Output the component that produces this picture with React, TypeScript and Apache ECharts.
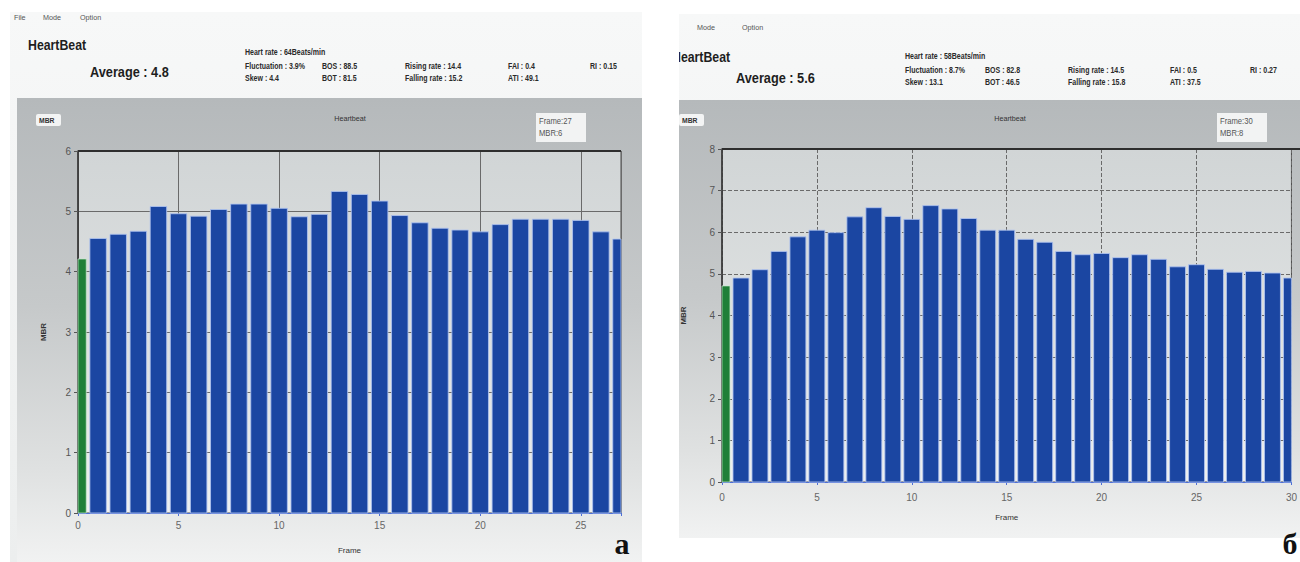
import React, { useEffect, useRef } from "react";
import * as echarts from "echarts";

// ---------- data ----------
const mbrA = [4.21, 4.55, 4.62, 4.67, 5.08, 4.96, 4.92, 5.03, 5.12, 5.12, 5.05, 4.91, 4.95, 5.33, 5.28, 5.17, 4.93, 4.81, 4.72, 4.69, 4.66, 4.78, 4.87, 4.87, 4.87, 4.85, 4.66, 4.54];
const mbrB = [4.71, 4.9, 5.1, 5.54, 5.89, 6.05, 5.99, 6.37, 6.59, 6.38, 6.31, 6.64, 6.56, 6.33, 6.05, 6.05, 5.83, 5.76, 5.54, 5.46, 5.49, 5.39, 5.46, 5.35, 5.17, 5.22, 5.11, 5.04, 5.06, 5.02, 4.9];

const menuA = ["File", "Mode", "Option"];
const menuB = ["Mode", "Option"];
const averageA = "Average : 4.8";
const averageB = "Average : 5.6";
const heartRateA = "Heart rate : 64Beats/min";
const heartRateB = "Heart rate : 58Beats/min";
const statsA1 = ["Fluctuation : 3.9%", "BOS : 88.5", "Rising rate : 14.4", "FAI : 0.4", "RI : 0.15"];
const statsA2 = ["Skew : 4.4", "BOT : 81.5", "Falling rate : 15.2", "ATI : 49.1"];
const statsB1 = ["Fluctuation : 8.7%", "BOS : 82.8", "Rising rate : 14.5", "FAI : 0.5", "RI : 0.27"];
const statsB2 = ["Skew : 13.1", "BOT : 46.5", "Falling rate : 15.8", "ATI : 37.5"];
const frameBoxA = ["Frame:27", "MBR:6"];
const frameBoxB = ["Frame:30", "MBR:8"];
const maxFrameA = 27;
const maxFrameB = 30;
const maxMbrA = 6;
const maxMbrB = 8;

// ---------- style ----------
const BLUE = "#1b46a2";
const GREEN = "#1f7f38";
const SANS = "'Liberation Sans', Arial, sans-serif";

function txt(x: number, y: number, text: string, size: number, opts: any = {}) {
  return {
    type: "text",
    x,
    y,
    scaleX: opts.scaleX ?? 0.82,
    z: opts.z ?? 10,
    style: {
      text,
      x: 0,
      y: 0,
      fontSize: size,
      fontWeight: opts.bold ? "bold" : "normal",
      fontFamily: opts.family ?? SANS,
      fill: opts.color ?? "#2a2a2a",
      align: opts.align ?? "left",
      verticalAlign: "middle",
    },
  };
}

function gradient(stops: [number, string][]) {
  return new echarts.graphic.LinearGradient(
    0, 0, 0, 1,
    stops.map(([offset, color]) => ({ offset, color }))
  );
}

function panelGraphics(p: any) {
  const els: any[] = [];
  els.push({ type: "rect", z: 1, shape: { x: p.winX, y: p.winY, width: p.winW, height: p.winH }, style: { fill: gradient([[0, "#f7f8f8"], [1, "#eceeee"]]) } });
  els.push({ type: "rect", z: 2, shape: { x: p.chartX, y: p.chartY, width: p.winX + p.winW - p.chartX, height: p.winY + p.winH - p.chartY }, style: { fill: gradient([[0, "#b5b9bb"], [0.45, "#c6c9ca"], [0.8, "#dfe1e1"], [1, "#f1f2f2"]]) } });
  p.menu.forEach((m: string, i: number) => els.push(txt(p.menuX[i], p.menuY, m, 8, { color: "#555", scaleX: 0.9 })));
  els.push(txt(p.hbX, p.hbY, "HeartBeat", 14, { bold: true, color: "#1e1e1e", scaleX: 0.88 }));
  els.push(txt(p.avgX, p.avgY, p.avg, 15, { bold: true, color: "#1e1e1e", scaleX: 0.85 }));
  els.push(txt(p.cols[0], p.hrY, p.hr, 9, { bold: true, scaleX: 0.78 }));
  p.row1.forEach((s: string, i: number) => els.push(txt(p.cols[i], p.r1Y, s, 9, { bold: true, scaleX: 0.78 })));
  p.row2.forEach((s: string, i: number) => els.push(txt(p.cols[i], p.r2Y, s, 9, { bold: true, scaleX: 0.78 })));
  // MBR badge
  els.push({ type: "rect", z: 5, shape: { x: p.mbrBoxX, y: 114, width: 25, height: 12, r: 2 }, style: { fill: "#f3f4f4" } });
  els.push(txt(p.mbrBoxX + 3, 120, "MBR", 8, { bold: true, color: "#333", scaleX: 0.85 }));
  // chart title
  els.push(txt(p.titleX, 118, "Heartbeat", 8, { color: "#333", align: "center", scaleX: 0.9 }));
  // frame box
  els.push({ type: "rect", z: 5, shape: { x: p.fbX, y: 113, width: 50, height: 29 }, style: { fill: "#f2f3f3" } });
  els.push(txt(p.fbX + 3, 121, p.frameBox[0], 9, { color: "#555", scaleX: 0.85 }));
  els.push(txt(p.fbX + 3, 133, p.frameBox[1], 9, { color: "#555", scaleX: 0.85 }));
  return els;
}

function xAxisFor(gridIndex: number, max: number, dashed: boolean, margin: number, nameGap: number) {
  return {
    type: "value",
    gridIndex,
    z: 50,
    min: 0,
    max,
    interval: 5,
    axisLine: { show: true, onZero: false, lineStyle: { color: "#4d6fd6", width: 1 } },
    axisTick: { show: true, length: 3, lineStyle: { color: "#4d6fd6" } },
    axisLabel: {
      margin,
      color: "#666",
      fontSize: 10,
      fontFamily: SANS,
      showMaxLabel: true,
      formatter: (v: number) => (v % 5 === 0 ? String(v) : ""),
    },
    splitLine: { show: true, lineStyle: { color: "#6a6a6a", width: 1, type: dashed ? "dashed" : "solid" } },
    name: "Frame",
    nameLocation: "middle",
    nameGap,
    nameTextStyle: { fontSize: 8, color: "#333", fontFamily: SANS },
  };
}

function yAxisFor(gridIndex: number, max: number, dashed: boolean, nameGap: number) {
  return {
    type: "value",
    gridIndex,
    z: 50,
    min: 0,
    max,
    interval: 1,
    axisLine: { show: true, lineStyle: { color: "#333", width: 1.5 } },
    axisTick: { show: true, length: 4, lineStyle: { color: "#555" } },
    axisLabel: { margin: 7, color: "#555", fontSize: 10, fontFamily: SANS },
    splitLine: { show: true, lineStyle: { color: "#6a6a6a", width: 1, type: dashed ? "dashed" : "solid" } },
    name: "MBR",
    nameLocation: "middle",
    nameGap,
    nameRotate: 90,
    nameTextStyle: { fontSize: 8, color: "#333", fontWeight: "bold", fontFamily: SANS },
  };
}

function barSeries(values: number[], axisIndex: number, widthRatio: number) {
  return {
    type: "custom",
    xAxisIndex: axisIndex,
    yAxisIndex: axisIndex,
    z: 60,
    data: values.map((v, i) => [i, v]),
    encode: { x: 0, y: 1 },
    renderItem: (params: any, api: any) => {
      const i = api.value(0);
      const v = api.value(1);
      const base = api.coord([i, 0]);
      const top = api.coord([i, v]);
      const w = api.size([1, 0])[0] * widthRatio;
      const cs = params.coordSys;
      const shape = echarts.graphic.clipRectByRect(
        { x: base[0] - w / 2, y: top[1], width: w, height: base[1] - top[1] },
        { x: cs.x, y: cs.y - 2, width: cs.width, height: cs.height + 2 }
      );
      if (!shape) return null;
      return {
        type: "rect",
        shape,
        style: {
          fill: i === 0 ? GREEN : BLUE,
          stroke: i === 0 ? "rgba(200,235,205,0.7)" : "rgba(175,195,240,0.85)",
          lineWidth: 1,
        },
      };
    },
  };
}

export default function App() {
  const ref = useRef<HTMLDivElement>(null);
  useEffect(() => {
    if (!ref.current) return;
    const chart = echarts.init(ref.current, undefined, { renderer: "svg" });

    const gA = { left: 78, top: 151, width: 543, height: 362 };
    const gB = { left: 722, top: 149, width: 578, height: 333 };

    const graphics: any[] = [
      ...panelGraphics({
        winX: 10, winY: 12, winW: 632, winH: 550, chartX: 17, chartY: 98,
        menu: menuA, menuX: [14, 43, 80], menuY: 17,
        hbX: 28, hbY: 45, avg: averageA, avgX: 90, avgY: 72,
        hr: heartRateA, row1: statsA1, row2: statsA2, cols: [245, 322, 405, 508, 590],
        hrY: 52, r1Y: 66, r2Y: 78,
        mbrBoxX: 36, titleX: 350, frameBox: frameBoxA, fbX: 536,
      }),
      ...panelGraphics({
        winX: 679, winY: 14, winW: 621, winH: 524, chartX: 679, chartY: 100,
        menu: menuB, menuX: [697, 742], menuY: 27,
        hbX: 672, hbY: 57, avg: averageB, avgX: 736, avgY: 78,
        hr: heartRateB, row1: statsB1, row2: statsB2, cols: [905, 985, 1068, 1170, 1250],
        hrY: 56, r1Y: 70, r2Y: 82,
        mbrBoxX: 679, titleX: 1010, frameBox: frameBoxB, fbX: 1217,
      }),
      // gap between panels
      { type: "rect", z: 20, shape: { x: 642, y: 0, width: 37, height: 562 }, style: { fill: "#ffffff" } },
      // thick top borders of the plots
      { type: "line", z: 70, shape: { x1: gA.left, y1: gA.top, x2: gA.left + gA.width, y2: gA.top }, style: { stroke: "#2e2e2e", lineWidth: 2 } },
      { type: "line", z: 70, shape: { x1: gB.left, y1: gB.top, x2: gB.left + gB.width, y2: gB.top }, style: { stroke: "#2e2e2e", lineWidth: 2 } },
      // panel letters
      txt(622, 543, "a", 30, { bold: true, family: "'Liberation Serif', 'DejaVu Serif', serif", color: "#111", align: "center", scaleX: 1, z: 80 }),
      txt(1290, 543, "б", 30, { bold: true, family: "'Liberation Serif', 'DejaVu Serif', serif", color: "#111", align: "center", scaleX: 1, z: 80 }),
    ];

    chart.setOption({
      animation: false,
      backgroundColor: "#ffffff",
      graphic: { elements: graphics },
      grid: [
        { ...gA, show: true, z: 3, backgroundColor: gradient([[0, "#d1d5d6"], [0.6, "#dfe2e2"], [1, "#eef0f0"]]), borderColor: "#4a4a4a", borderWidth: 1 },
        { ...gB, show: true, z: 3, backgroundColor: gradient([[0, "#d1d5d6"], [0.6, "#dfe2e2"], [1, "#eef0f0"]]), borderColor: "#4a4a4a", borderWidth: 1 },
      ],
      xAxis: [xAxisFor(0, maxFrameA, false, 7, 33), xAxisFor(1, maxFrameB, true, 10, 31)],
      yAxis: [yAxisFor(0, maxMbrA, false, 31), yAxisFor(1, maxMbrB, true, 35)],
      series: [barSeries(mbrA, 0, 0.82), barSeries(mbrB, 1, 0.84)],
    });
    return () => chart.dispose();
  }, []);
  return <div ref={ref} style={{ position: "absolute", left: 0, top: 0, width: 1300, height: 562 }} />;
}
